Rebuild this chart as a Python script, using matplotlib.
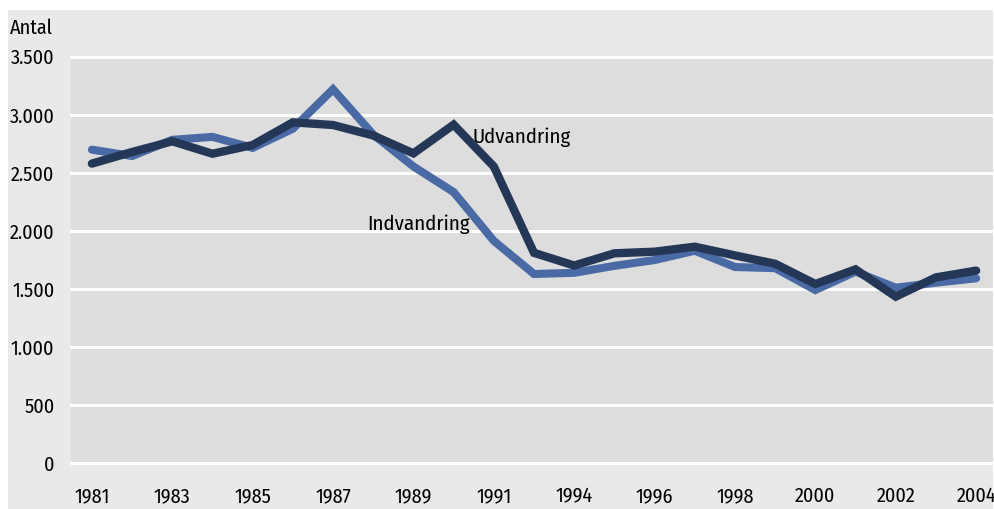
import matplotlib
matplotlib.use("Agg")
import matplotlib.pyplot as plt
from matplotlib.ticker import FuncFormatter

years = ["1981", "1982", "1983", "1984", "1985", "1986", "1987", "1988", "1989", "1990",
         "1991", "1993", "1994", "1995", "1996", "1997", "1998", "1999", "2000", "2001",
         "2002", "2003", "2004"]
indvandring = [2700, 2645, 2785, 2810, 2715, 2880, 3220, 2830, 2555, 2335,
               1915, 1630, 1640, 1700, 1750, 1830, 1690, 1680, 1492, 1650,
               1512, 1555, 1593]
udvandring = [2580, 2680, 2772, 2665, 2740, 2935, 2912, 2822, 2668, 2915,
              2555, 1812, 1703, 1808, 1822, 1865, 1790, 1718, 1544, 1670,
              1435, 1601, 1659]
yticks = [0, 500, 1000, 1500, 2000, 2500, 3000, 3500]

FONT = ["Fira Sans Condensed", "DejaVu Sans"]
plt.rcParams["font.family"] = FONT
FS = 14.5

W, H = 995, 509
fig = plt.figure(figsize=(W / 100, H / 100), dpi=100)
fig.patch.set_facecolor("white")
bg = fig.add_axes([8 / W, 0, (993 - 8) / W, (509 - 10) / H], zorder=-10)
bg.set_facecolor("#e9e9e9")
bg.set_xticks([])
bg.set_yticks([])
for s in bg.spines.values():
    s.set_visible(False)

left, right = 71 / W, 993 / W
bottom, top = (H - 463.4) / H, (H - 56.7) / H
ax = fig.add_axes([left, bottom, right - left, top - bottom], zorder=1)
ax.set_facecolor("#dddddd")

x = list(range(len(years)))
ax.plot(x, indvandring, color="#4a6aa5", lw=5.8, solid_joinstyle="miter",
        solid_capstyle="round", zorder=3)
ax.plot(x, udvandring, color="#253757", lw=6.0, solid_joinstyle="miter",
        solid_capstyle="round", zorder=4)

ax.set_xlim(-0.52, 22.42)
ax.set_ylim(0, 3500)
ax.set_yticks(yticks)
ax.yaxis.set_major_formatter(FuncFormatter(lambda v, p: f"{int(v):,}".replace(",", ".")))
ax.set_xticks(x[::2])
ax.set_xticklabels(years[::2])
ax.tick_params(axis="both", length=0, labelsize=FS, colors="black")
ax.tick_params(axis="y", pad=12)
ax.tick_params(axis="x", pad=17)
for s in ax.spines.values():
    s.set_visible(False)
ax.yaxis.grid(True, color="white", lw=2.2)
ax.set_axisbelow(True)
for gl in ax.get_ygridlines():
    gl.set_clip_on(False)

fig.text(10 / W, 1 - 28 / H, "Antal", fontsize=FS, va="center", ha="left")
ax.text(9.48, 2805, "Udvandring", fontsize=FS + 0.5, va="center", ha="left", zorder=5)
ax.text(6.85, 2060, "Indvandring", fontsize=FS + 0.5, va="center", ha="left", zorder=5)

fig.savefig("out.png", dpi=100)
